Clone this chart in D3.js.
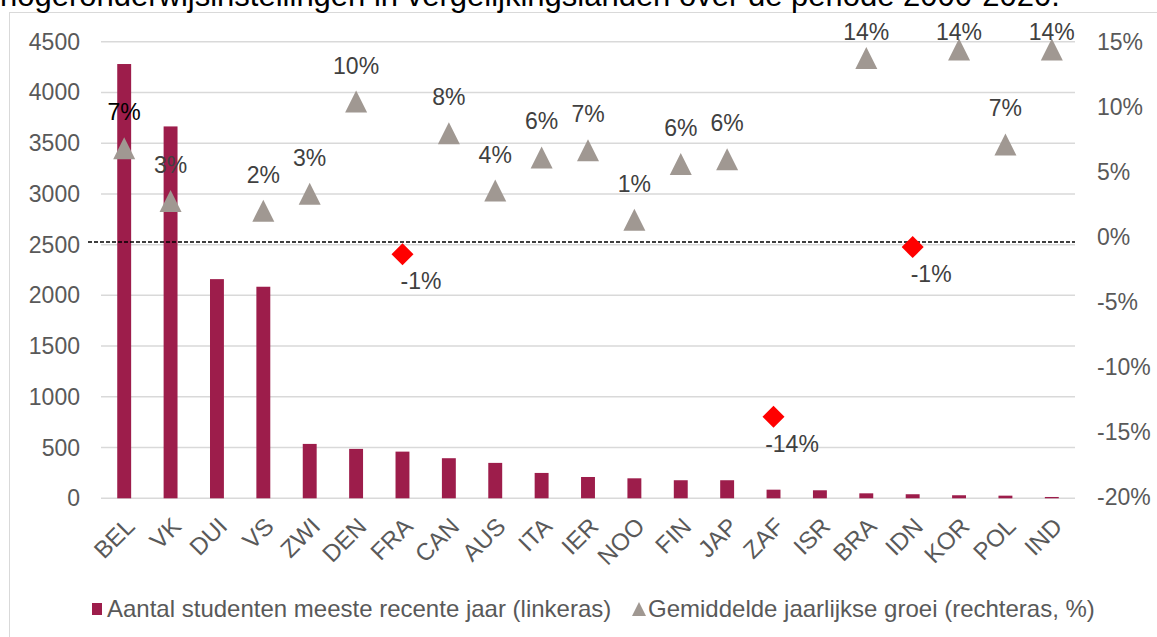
<!DOCTYPE html>
<html>
<head>
<meta charset="utf-8">
<script src="https://cdn.jsdelivr.net/npm/d3@7"></script>
<style>
  body { margin: 0; background: #fff; }
  svg { font-family: "Liberation Sans", Arial, sans-serif; }
</style>
</head>
<body>
<div id="chart"></div>
<script>
// countries, left to right
const countries = ["BEL", "VK", "DUI", "VS", "ZWI", "DEN", "FRA", "CAN", "AUS", "ITA", "IER",
    "NOO", "FIN", "JAP", "ZAF", "ISR", "BRA", "IDN", "KOR", "POL", "IND"];

// number of students, most recent year (left axis)
const students = [4280, 3665, 2160, 2085, 536, 487, 460, 395, 349, 250, 210,
    197, 178, 178, 85, 79, 49, 40, 30, 26, 13];

// average yearly growth in % (right axis), null = no marker
const growth = [6.8, 2.75, null, 2.0, 3.3, 10.4, -1.35, 7.95, 3.55, 6.1, 6.65,
    1.3, 5.6, 5.95, -13.85, null, 13.75, -0.8, 14.4, 7.1, 14.4];

const leftTicks = [0, 500, 1000, 1500, 2000, 2500, 3000, 3500, 4000, 4500];
const rightTicks = [-20, -15, -10, -5, 0, 5, 10, 15];
const refLine = -0.4; // dashed line, sits just under 0% on the right axis

const title = "hogeronderwijsinstellingen in vergelijkingslanden over de periode 2000-2020.";
const legendLabels = ["Aantal studenten meeste recente jaar (linkeras)",
    "Gemiddelde jaarlijkse groei (rechteras, %)"];

const width = 1157, height = 637;
const barColor = "#9d1d4b", triColor = "#a09892", negColor = "#ff0000";
const axisText = "#595959", labelText = "#404040";

const svg = d3.select("#chart")
    .append("svg")
    .attr("width", width)
    .attr("height", height);

// chart area border (runs off the right and bottom edge)
svg.append("rect")
    .attr("x", 9.5).attr("y", 12.5)
    .attr("width", 1300).attr("height", 800)
    .attr("fill", "none")
    .attr("stroke", "#d9d9d9");

// title, cut off at the top
svg.append("text")
    .attr("x", 0).attr("y", 6)
    .attr("font-size", 31)
    .attr("fill", "#000")
    .text(title);

const x = d3.scaleBand()
    .domain(countries)
    .range([101, 1075])
    .paddingInner(0.7)
    .paddingOuter(0.35);

const yL = d3.scaleLinear().domain([0, 4500]).range([498.3, 41.7]);
const yR = d3.scaleLinear().domain([-20, 15]).range([496.7, 41.7]);

// gridlines follow the left axis
svg.append("g")
    .selectAll("line")
    .data(leftTicks)
    .enter()
    .append("line")
    .attr("x1", 101).attr("x2", 1075)
    .attr("y1", (d) => yL(d)).attr("y2", (d) => yL(d))
    .attr("stroke", "#d9d9d9")
    .attr("stroke-width", 1.5);

// left axis labels
svg.append("g")
    .selectAll("text")
    .data(leftTicks)
    .enter()
    .append("text")
    .attr("x", 80)
    .attr("y", (d) => yL(d))
    .attr("dy", "0.35em")
    .attr("text-anchor", "end")
    .attr("font-size", 23)
    .attr("fill", axisText)
    .text((d) => d);

// right axis labels
svg.append("g")
    .selectAll("text")
    .data(rightTicks)
    .enter()
    .append("text")
    .attr("x", 1097)
    .attr("y", (d) => yR(d))
    .attr("dy", "0.35em")
    .attr("text-anchor", "start")
    .attr("font-size", 23)
    .attr("fill", axisText)
    .text((d) => d + "%");

// bars
svg.append("g")
    .selectAll("rect")
    .data(countries)
    .enter()
    .append("rect")
    .attr("x", (d) => x(d))
    .attr("width", x.bandwidth())
    .attr("y", (d, i) => yL(students[i]))
    .attr("height", (d, i) => yL(0) - yL(students[i]))
    .attr("fill", barColor);

// dashed reference line
svg.append("line")
    .attr("x1", 88).attr("x2", 1075)
    .attr("y1", yR(refLine)).attr("y2", yR(refLine))
    .attr("stroke", "#000")
    .attr("stroke-width", 1.5)
    .attr("stroke-dasharray", "4,2");

// growth markers
const pts = countries
    .map((c, i) => ({ c: c, v: growth[i], i: i }))
    .filter((d) => d.v !== null);

const triangle = "M0,-11L11,11L-11,11Z";
const diamond = "M0,-11L11,0L0,11L-11,0Z";

svg.append("g")
    .selectAll("path")
    .data(pts)
    .enter()
    .append("path")
    .attr("transform", (d) => "translate(" + (x(d.c) + x.bandwidth() / 2) + "," + yR(d.v) + ")")
    .attr("d", (d) => d.v < 0 ? diamond : triangle)
    .attr("fill", (d) => d.v < 0 ? negColor : triColor);

// growth labels
svg.append("g")
    .selectAll("text")
    .data(pts)
    .enter()
    .append("text")
    .attr("x", (d) => x(d.c) + x.bandwidth() / 2 + (d.v < 0 ? 18.5 : 0))
    .attr("y", (d) => d.v < 0 ? yR(d.v) + 27 : Math.max(yR(d.v) - 36, 32))
    .attr("dy", "0.35em")
    .attr("text-anchor", "middle")
    .attr("font-size", 23)
    .attr("fill", (d) => d.i === 0 ? "#000" : labelText)
    .text((d) => Math.round(d.v) + "%");

// category labels, rotated
svg.append("g")
    .selectAll("text")
    .data(countries)
    .enter()
    .append("text")
    .attr("transform", (d) => "translate(" + (x(d) + x.bandwidth() / 2) + ",516) rotate(-45)")
    .attr("text-anchor", "end")
    .attr("dy", "0.7em")
    .attr("font-size", 24)
    .attr("fill", axisText)
    .text((d) => d);

// legend
const legend = svg.append("g").attr("transform", "translate(0,609)");
legend.append("rect")
    .attr("x", 92).attr("y", -6)
    .attr("width", 10).attr("height", 12)
    .attr("fill", barColor);
legend.append("text")
    .attr("x", 107).attr("y", 0)
    .attr("dy", "0.35em")
    .attr("font-size", 24)
    .attr("fill", axisText)
    .text(legendLabels[0]);
legend.append("path")
    .attr("d", "M639,-7L646,7L632,7Z")
    .attr("fill", triColor);
legend.append("text")
    .attr("x", 648).attr("y", 0)
    .attr("dy", "0.35em")
    .attr("font-size", 24)
    .attr("fill", axisText)
    .text(legendLabels[1]);
</script>
</body>
</html>
